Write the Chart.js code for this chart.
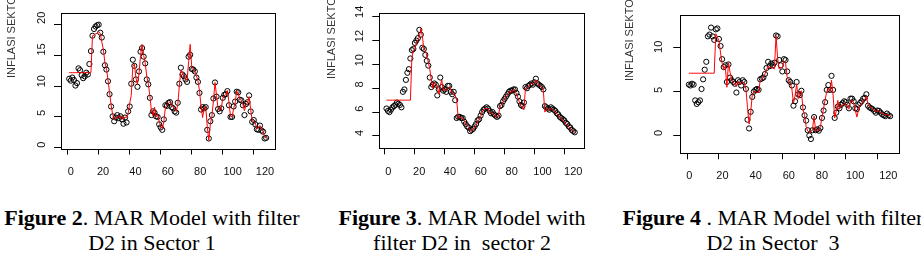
<!DOCTYPE html>
<html>
<head>
<meta charset="utf-8">
<script src="https://cdn.jsdelivr.net/npm/chart.js@4.4.1/dist/chart.umd.min.js"></script>
<style>
  body { margin: 0; background: #fff; }
  #page { position: relative; width: 921px; height: 274px; overflow: hidden; background: #fff; }
  canvas { position: absolute; top: 0; }
  .cap {
    position: absolute; top: 205px; width: 330px;
    font-family: "Liberation Serif", "Times New Roman", serif;
    font-size: 22px; line-height: 25px; text-align: center;
    white-space: pre; color: #000;
  }
</style>
</head>
<body>
<div id="page">
  <canvas id="c1" width="307" height="190" style="left:0px"></canvas>
  <canvas id="c2" width="307" height="190" style="left:307px"></canvas>
  <canvas id="c3" width="307" height="190" style="left:614px"></canvas>
  <div class="cap" style="left:-13px"><b>Figure 2</b>. MAR Model with filter<br>D2 in Sector 1</div>
  <div class="cap" style="left:297px"><b>Figure 3</b>. MAR Model with<br>filter D2 in  sector 2</div>
  <div class="cap" style="left:608px"><b>Figure 4</b> . MAR Model with filter<br>D2 in Sector  3</div>
</div>
<script>
// observation index on x, inflation on y
var xTicks = [0, 20, 40, 60, 80, 100, 120];
var yTicks1 = [0, 5, 10, 15, 20];
var yTicks2 = [4, 6, 8, 10, 12, 14];
var yTicks3 = [0, 5, 10];

// sector 1: actual (circles) and MAR fitted (red line)
var actual1 = [11.2, 10.9, 11.4, 11.0, 10.1, 10.5, 12.9, 12.6, 11.8, 11.3,
    11.6, 12.2, 11.9, 13.6, 15.7, 18.2, 19.3, 19.7, 19.9, 20.0,
    18.7, 17.9, 15.6, 13.4, 12.7, 10.8, 8.7, 6.7, 5.1, 4.3,
    4.9, 5.3, 4.8, 5.1, 4.6, 3.9, 4.9, 4.1, 5.9, 6.7,
    10.4, 14.3, 13.3, 11.1, 9.9, 12.4, 15.6, 16.2, 14.8, 13.7,
    11.1, 10.3, 8.1, 5.3, 5.9, 5.7, 5.1, 5.0, 3.8, 3.3,
    2.9, 4.6, 6.9, 6.8, 7.3, 7.4, 6.6, 6.4, 5.9, 5.7,
    7.3, 10.4, 13.0, 11.9, 11.6, 11.1, 10.7, 14.8, 15.1, 12.8,
    12.7, 12.4, 11.4, 10.7, 8.9, 6.2, 6.6, 6.4, 6.6, 2.9,
    1.5, 4.3, 5.3, 8.0, 10.6, 8.3, 6.3, 5.9, 6.4, 8.1,
    8.6, 8.7, 9.2, 6.9, 5.0, 5.0, 6.7, 7.5, 9.1, 9.0,
    7.8, 7.7, 6.9, 5.3, 7.1, 7.4, 8.5, 5.9, 4.2, 4.5,
    3.8, 3.0, 2.9, 3.6, 2.8, 2.6, 1.5, 1.6];
var fitted1 = [12.2, 12.2, 12.2, 12.2, 12.2, 12.2, 12.2, 12.2, 12.2, 12.2,
    12.2, 12.2, 12.2, 12.2, 12.2, 18.2, 18.3, 18.5, 18.6, 18.9,
    18.6, 17.2, 16.0, 13.8, 12.9, 11.0, 9.0, 7.0, 5.4, 4.6,
    4.8, 5.0, 5.2, 4.7, 5.2, 4.6, 5.0, 4.9, 5.6, 7.2,
    8.5, 13.2, 13.6, 11.4, 10.3, 12.0, 15.0, 16.8, 15.0, 13.8,
    11.6, 10.4, 8.5, 6.0, 5.2, 6.6, 5.0, 5.4, 4.3, 3.5,
    3.1, 4.2, 6.5, 7.0, 7.2, 7.5, 6.8, 6.7, 6.3, 5.9,
    7.0, 10.0, 12.6, 12.2, 11.5, 11.2, 10.9, 14.0, 16.8, 13.2,
    12.8, 12.4, 11.7, 10.9, 9.3, 6.8, 4.9, 6.4, 6.7, 3.5,
    1.2, 3.8, 5.1, 7.6, 10.6, 8.5, 6.3, 6.0, 6.3, 8.0,
    8.5, 8.6, 9.3, 7.4, 5.1, 5.0, 6.3, 7.3, 9.2, 8.8,
    7.9, 7.7, 7.0, 6.0, 7.0, 7.3, 8.3, 6.2, 4.4, 4.3,
    4.0, 3.1, 3.2, 3.6, 3.0, 2.7, 1.7, 1.6];

// sector 2
var actual2 = [6.3, 6.1, 6.0, 6.2, 6.4, 6.5, 6.6, 6.8, 6.7, 6.6,
    6.4, 7.7, 7.9, 8.7, 9.3, 9.6, 10.5, 11.2, 11.3, 11.8,
    12.0, 12.2, 12.9, 12.5, 11.4, 11.3, 10.8, 10.3, 9.9, 8.9,
    8.1, 8.3, 8.4, 8.3, 7.4, 7.9, 8.9, 8.1, 7.8, 7.9,
    7.7, 8.2, 8.2, 7.7, 7.5, 7.7, 7.0, 5.5, 5.6, 5.6,
    5.5, 5.5, 5.2, 5.0, 4.8, 4.7, 4.4, 4.5, 4.6, 4.8,
    5.0, 5.3, 5.4, 5.7, 6.0, 6.2, 6.3, 6.4, 6.3, 6.1,
    5.9, 6.0, 5.8, 5.7, 5.6, 5.7, 6.5, 6.6, 6.9, 7.1,
    7.3, 7.5, 7.7, 7.8, 7.8, 7.9, 7.9, 7.6, 7.3, 6.9,
    6.6, 6.5, 6.8, 8.1, 8.0, 8.2, 8.3, 8.4, 8.3, 8.5,
    8.8, 8.4, 8.3, 8.2, 8.1, 7.9, 6.5, 6.4, 6.3, 6.2,
    6.4, 6.3, 6.2, 6.1, 5.9, 5.8, 5.6, 5.5, 5.4, 5.3,
    5.1, 5.0, 4.8, 4.7, 4.5, 4.4, 4.3];
var fitted2 = [7.0, 7.0, 7.0, 7.0, 7.0, 7.0, 7.0, 7.0, 7.0, 7.0,
    7.0, 7.0, 7.0, 7.0, 7.0, 7.0, 7.0, 10.5, 11.2, 11.3,
    11.8, 12.0, 12.3, 13.0, 12.4, 11.3, 11.2, 10.7, 10.2, 9.6,
    8.7, 8.0, 8.5, 8.3, 8.2, 7.5, 8.2, 8.7, 7.8, 7.9,
    7.8, 8.0, 8.1, 7.9, 7.6, 7.6, 7.4, 7.0, 5.5, 5.6,
    5.5, 5.5, 5.3, 5.0, 4.9, 4.7, 4.5, 4.4, 4.6, 4.7,
    4.9, 5.2, 5.4, 5.6, 6.0, 6.2, 6.3, 6.3, 6.3, 6.0,
    5.9, 5.9, 5.8, 5.6, 5.6, 5.7, 6.5, 6.6, 6.8, 7.1,
    7.3, 7.4, 7.7, 7.7, 7.7, 7.9, 7.8, 7.5, 7.2, 6.8,
    6.5, 6.4, 6.2, 8.0, 8.0, 8.1, 8.3, 8.4, 8.3, 8.4,
    8.7, 8.5, 8.3, 8.2, 8.1, 7.8, 6.0, 6.2, 6.3, 6.2,
    6.3, 6.2, 6.1, 6.0, 5.9, 5.7, 5.6, 5.4, 5.3, 5.2,
    5.0, 4.9, 4.8, 4.6, 4.5, 4.4, 4.3];

// sector 3
var actual3 = [5.8, 5.7, 5.9, 5.8, 4.0, 3.6, 3.8, 4.0, 5.3, 6.4,
    7.5, 8.4, 11.3, 11.5, 12.3, 11.3, 10.9, 12.1, 12.2, 11.0,
    10.2, 8.7, 7.8, 8.0, 6.1, 8.1, 6.6, 6.3, 6.1, 5.9,
    4.9, 6.3, 6.1, 5.7, 6.3, 6.1, 5.3, 1.8, 0.8, 2.7,
    4.4, 5.0, 5.2, 5.3, 5.2, 6.4, 6.5, 6.6, 7.0, 7.7,
    8.4, 7.9, 8.2, 8.0, 8.3, 11.4, 11.3, 8.6, 8.0, 7.3,
    8.7, 8.6, 7.3, 6.3, 6.1, 5.7, 3.4, 3.9, 6.1, 4.7,
    4.6, 5.1, 3.2, 2.3, 1.7, 0.6, 0.0, -0.4, 0.6, 2.1,
    0.6, 0.7, 0.55, 0.85, 2.0, 2.85, 3.8, 5.2, 5.75, 5.2,
    6.8, 5.2, 2.0, 2.6, 3.3, 3.1, 3.5, 3.7, 3.9, 3.8,
    3.5, 3.1, 4.2, 4.2, 3.9, 3.1, 3.0, 3.5, 3.7, 3.9,
    4.2, 4.3, 4.7, 3.4, 3.2, 3.1, 3.0, 2.8, 2.6, 2.85,
    2.8, 2.6, 2.4, 2.3, 2.2, 2.5, 2.3, 2.2];
var fitted3 = [7.1, 7.1, 7.1, 7.1, 7.1, 7.1, 7.1, 7.1, 7.1, 7.1,
    7.1, 7.1, 7.1, 7.1, 7.1, 7.1, 7.1, 11.6, 11.2, 10.8,
    9.4, 8.2, 7.6, 7.9, 5.5, 8.3, 7.2, 6.4, 6.0, 5.9,
    5.6, 6.2, 5.9, 5.9, 6.1, 6.0, 5.3, 3.2, 1.3, 2.6,
    4.6, 5.0, 5.0, 4.9, 4.9, 6.3, 6.4, 6.6, 7.0, 7.5,
    7.9, 7.7, 7.8, 7.7, 7.6, 11.4, 8.8, 7.6, 7.7, 7.8,
    8.5, 8.3, 6.7, 6.3, 5.9, 5.3, 3.7, 4.5, 5.9, 4.2,
    4.9, 5.1, 3.0, 2.3, 1.0, 0.5, 0.4, 0.4, 0.7, 2.2,
    0.5, 0.6, 0.6, 1.0, 2.1, 3.1, 4.1, 5.0, 5.4, 5.0,
    6.3, 4.6, 2.0, 2.8, 4.0, 3.0, 3.4, 3.5, 3.6, 3.6,
    3.2, 3.0, 3.9, 4.0, 3.7, 2.9, 2.1, 2.9, 3.4, 3.6,
    4.0, 4.1, 4.5, 3.6, 3.3, 3.2, 3.0, 2.9, 2.7, 2.9,
    2.8, 2.6, 2.5, 2.5, 2.3, 2.4, 2.3, 2.2];

var tickFont = { family: "'Liberation Sans', Arial, sans-serif", size: 11 };

function toPoints(arr) {
    return arr.map(function (v, i) {
        return { x: i + 1, y: v };
    });
}

function setTicks(list) {
    return function (scale) {
        scale.ticks = list.map(function (v) { return { value: v }; });
    };
}

// R style box round the plot region plus the clipped y title
var rBox = {
    id: "rbox",
    afterDraw: function (chart, args, opts) {
        var a = chart.chartArea;
        var ctx = chart.ctx;
        ctx.save();
        ctx.strokeStyle = "#000";
        ctx.lineWidth = 1;
        var l = Math.round(a.left) + 0.5, t = Math.round(a.top) + 0.5;
        var r = Math.round(a.right) + 0.5, b = Math.round(a.bottom) + 0.5;
        ctx.strokeRect(l, t, r - l, b - t);
        ctx.translate(opts.tx, opts.ty);
        ctx.rotate(-Math.PI / 2);
        ctx.font = "11px 'Liberation Sans', Arial, sans-serif";
        ctx.fillStyle = "#333";
        ctx.textAlign = "left";
        ctx.textBaseline = "middle";
        ctx.fillText(opts.text, 0, 0);
        ctx.restore();
    }
};

// x / y carry the data and the tick marks; x2 / y2 only carry the tick labels,
// which sit a little more spread out than the marks in the original figure
function drawPanel(id, actual, fitted, yTicks, p) {
    new Chart(document.getElementById(id), {
        type: "line",
        data: {
            datasets: [{
                data: toPoints(fitted),
                borderColor: "#ff0000",
                borderWidth: 1,
                pointRadius: 0,
                fill: false,
                tension: 0
            }, {
                data: toPoints(actual),
                showLine: false,
                borderColor: "#000",
                pointBorderColor: "#000",
                pointBackgroundColor: "rgba(0,0,0,0)",
                pointRadius: 2.6,
                pointBorderWidth: 1
            }]
        },
        options: {
            responsive: false,
            animation: false,
            devicePixelRatio: 1,
            layout: { padding: { top: p.top, right: p.right, left: 0, bottom: 0 } },
            plugins: {
                legend: { display: false },
                tooltip: { enabled: false },
                rbox: { text: p.title, tx: p.tx, ty: p.ty }
            },
            scales: {
                x: {
                    type: "linear",
                    weight: 0,
                    min: p.xMin,
                    max: p.xMax,
                    afterBuildTicks: setTicks(xTicks),
                    afterFit: function (s) { s.height = 6; },
                    grid: { drawOnChartArea: false, color: "#000", tickLength: 6 },
                    border: { display: false },
                    ticks: { display: false }
                },
                x2: {
                    type: "linear",
                    position: "bottom",
                    weight: 1,
                    min: p.lxMin,
                    max: p.lxMax,
                    afterBuildTicks: setTicks(xTicks),
                    afterFit: function (s) { s.height = p.xh - 6; },
                    grid: { display: false, drawTicks: false },
                    border: { display: false },
                    ticks: { color: "#111", font: tickFont, padding: p.xPad, maxRotation: 0, autoSkip: false }
                },
                y: {
                    weight: 0,
                    min: p.yMin,
                    max: p.yMax,
                    afterBuildTicks: setTicks(yTicks),
                    afterFit: function (s) { s.width = 7; },
                    grid: { drawOnChartArea: false, color: "#000", tickLength: 7 },
                    border: { display: false },
                    ticks: { display: false }
                },
                y2: {
                    type: "linear",
                    position: "left",
                    weight: 1,
                    min: p.lyMin,
                    max: p.lyMax,
                    afterBuildTicks: setTicks(yTicks),
                    afterFit: function (s) { s.width = p.yw - 7; },
                    grid: { display: false, drawTicks: false },
                    border: { display: false },
                    ticks: { color: "#111", font: tickFont, padding: p.yPad, minRotation: 90, maxRotation: 90, crossAlign: "center", autoSkip: false }
                }
            }
        },
        plugins: [rBox]
    });
}

drawPanel("c1", actual1, fitted1, yTicks1, {
    xMin: -4.3, xMax: 133.7, yMin: -0.13, yMax: 21.96,
    lxMin: -5.99, lxMax: 126.17, lyMin: -0.62, lyMax: 20.82,
    top: 10, right: 32, yw: 61, xh: 41.5, xPad: 11, yPad: 6,
    title: "INFLASI SEKTOR 1", tx: 12, ty: 78
});
drawPanel("c2", actual2, fitted2, yTicks2, {
    xMin: -3.8, xMax: 133.2, yMin: 2.96, yMax: 14.35,
    lxMin: -5.84, lxMax: 126.94, lyMin: 2.72, lyMax: 13.94,
    top: 10, right: 30, yw: 72.3, xh: 41.7, xPad: 11, yPad: 6,
    title: "INFLASI SEKTOR 2", tx: 25, ty: 79
});
drawPanel("c3", actual3, fitted3, yTicks3, {
    xMin: -4.4, xMax: 133.4, yMin: -2.03, yMax: 13.78,
    lxMin: -5.43, lxMax: 126.27, lyMin: -2.35, lyMax: 13.73,
    top: 11, right: 22.3, yw: 66.3, xh: 36.7, xPad: 10, yPad: 8,
    title: "INFLASI SEKTOR 3", tx: 15.5, ty: 81
});
</script>
</body>
</html>
